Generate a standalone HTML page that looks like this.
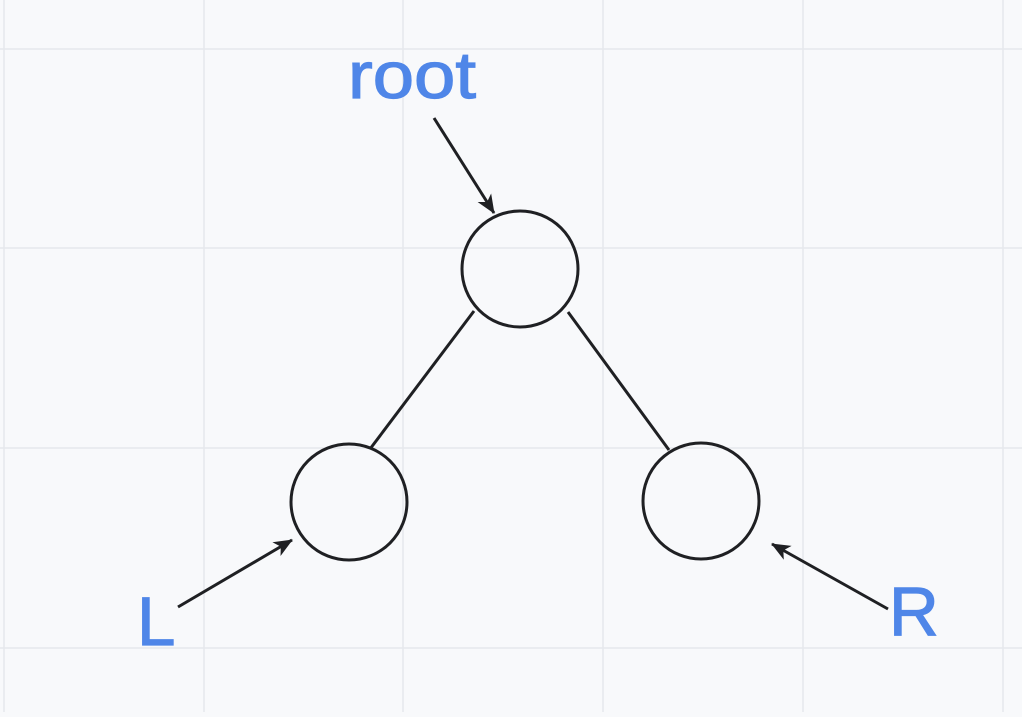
<!DOCTYPE html>
<html><head><style>
html,body{margin:0;padding:0;}
body{width:1022px;height:712px;overflow:hidden;background:#f8f9fb;}
</style></head><body>
<svg width="1022" height="712" xmlns="http://www.w3.org/2000/svg">
<defs>
<marker id="a" markerWidth="20" markerHeight="20" refX="18" refY="10" orient="auto" markerUnits="userSpaceOnUse" viewBox="0 0 20 20">
<path d="M0,2 L19,10 L0,18 L5,10 z" fill="#1f2023"/>
</marker>
</defs>
<g stroke="#e6e8ec" stroke-width="1.5">
<line x1="4" y1="0" x2="4" y2="712"/><line x1="204" y1="0" x2="204" y2="712"/><line x1="403" y1="0" x2="403" y2="712"/><line x1="603" y1="0" x2="603" y2="712"/><line x1="803" y1="0" x2="803" y2="712"/><line x1="1003" y1="0" x2="1003" y2="712"/>
<line x1="0" y1="49" x2="1022" y2="49"/><line x1="0" y1="248" x2="1022" y2="248"/><line x1="0" y1="448" x2="1022" y2="448"/><line x1="0" y1="648" x2="1022" y2="648"/>
</g>
<g fill="none" stroke="#1f2023" stroke-width="3">
<circle cx="520" cy="269" r="58"/>
<circle cx="349" cy="502" r="58"/>
<circle cx="701" cy="501" r="58"/>
<line x1="474" y1="311" x2="370" y2="449"/>
<line x1="568" y1="312" x2="669" y2="450"/>
<line x1="434" y1="118" x2="494" y2="213" marker-end="url(#a)"/>
<line x1="178" y1="607" x2="292" y2="540" marker-end="url(#a)"/>
<line x1="888" y1="609" x2="772" y2="544" marker-end="url(#a)"/>
</g>
<g fill="#4f86e8" stroke="#4f86e8" stroke-width="1.2" font-family="Liberation Sans, sans-serif">
<text x="348" y="98" font-size="66" textLength="128" lengthAdjust="spacingAndGlyphs">root</text>
<text x="137" y="645" font-size="69">L</text>
<text x="889" y="635" font-size="69">R</text>
</g>
</svg>
</body></html>
